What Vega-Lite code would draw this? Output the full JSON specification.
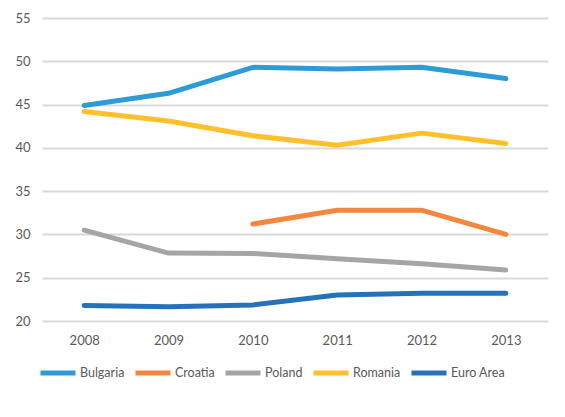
{
  "$schema": "https://vega.github.io/schema/vega-lite/v6.json",
  "width": 506,
  "height": 303,
  "padding": {"left": 12, "top": 12, "right": 17, "bottom": 10},
  "background": "white",
  "config": {
    "view": {"stroke": null},
    "font": "Lato",
    "axis": {"labelFont": "Lato", "labelFontSize": 13, "labelColor": "#595959"},
    "legend": {"labelFont": "Lato", "labelFontSize": 12.5, "labelColor": "#595959"}
  },
  "data": {
    "values": [
      {"year": "2008", "country": "Bulgaria", "value": 44.9},
      {"year": "2009", "country": "Bulgaria", "value": 46.3},
      {"year": "2010", "country": "Bulgaria", "value": 49.3},
      {"year": "2011", "country": "Bulgaria", "value": 49.1},
      {"year": "2012", "country": "Bulgaria", "value": 49.3},
      {"year": "2013", "country": "Bulgaria", "value": 48.0},
      {"year": "2010", "country": "Croatia", "value": 31.2},
      {"year": "2011", "country": "Croatia", "value": 32.8},
      {"year": "2012", "country": "Croatia", "value": 32.8},
      {"year": "2013", "country": "Croatia", "value": 30.0},
      {"year": "2008", "country": "Poland", "value": 30.5},
      {"year": "2009", "country": "Poland", "value": 27.85},
      {"year": "2010", "country": "Poland", "value": 27.8},
      {"year": "2011", "country": "Poland", "value": 27.2},
      {"year": "2012", "country": "Poland", "value": 26.6},
      {"year": "2013", "country": "Poland", "value": 25.9},
      {"year": "2008", "country": "Romania", "value": 44.2},
      {"year": "2009", "country": "Romania", "value": 43.1},
      {"year": "2010", "country": "Romania", "value": 41.4},
      {"year": "2011", "country": "Romania", "value": 40.3},
      {"year": "2012", "country": "Romania", "value": 41.7},
      {"year": "2013", "country": "Romania", "value": 40.5},
      {"year": "2008", "country": "Euro Area", "value": 21.8},
      {"year": "2009", "country": "Euro Area", "value": 21.65},
      {"year": "2010", "country": "Euro Area", "value": 21.85},
      {"year": "2011", "country": "Euro Area", "value": 23.0},
      {"year": "2012", "country": "Euro Area", "value": 23.2},
      {"year": "2013", "country": "Euro Area", "value": 23.2}
    ]
  },
  "mark": {"type": "line", "strokeWidth": 5, "strokeCap": "round", "strokeJoin": "round"},
  "encoding": {
    "x": {
      "field": "year",
      "type": "ordinal",
      "scale": {"type": "point", "padding": 0.5},
      "axis": {"title": null, "labelAngle": 0, "ticks": false, "domain": false, "grid": false, "labelPadding": 13}
    },
    "y": {
      "field": "value",
      "type": "quantitative",
      "scale": {"domain": [20, 55], "nice": false, "zero": false},
      "axis": {"title": null, "values": [20, 25, 30, 35, 40, 45, 50, 55], "ticks": false, "domain": false, "gridColor": "#D9D9D9", "gridWidth": 2, "labelPadding": 12, "minExtent": 30, "maxExtent": 30}
    },
    "color": {
      "field": "country",
      "type": "nominal",
      "scale": {
        "domain": ["Bulgaria", "Croatia", "Poland", "Romania", "Euro Area"],
        "range": ["#2E9BD9", "#F4873F", "#A5A5A5", "#FFC02B", "#2672BA"]
      },
      "legend": {
        "title": null,
        "orient": "none",
        "direction": "horizontal",
        "legendX": -4,
        "legendY": 335,
        "gridAlign": "none",
        "symbolType": "stroke",
        "symbolSize": 1225,
        "symbolStrokeWidth": 5,
        "labelOffset": 2,
        "columnPadding": 0
      }
    }
  }
}
